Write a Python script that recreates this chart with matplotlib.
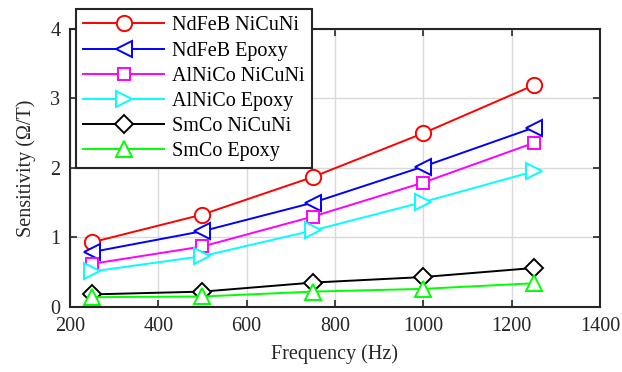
import matplotlib
import matplotlib.pyplot as plt
import numpy as np

matplotlib.use("Agg")

plt.rcParams["font.family"] = ["Liberation Serif", "DejaVu Serif"]

freq = [250, 500, 750, 1000, 1250]
ndfeb_nicuni = [0.93, 1.33, 1.87, 2.50, 3.19]
ndfeb_epoxy = [0.79, 1.09, 1.50, 2.02, 2.58]
alnico_nicuni = [0.62, 0.87, 1.30, 1.79, 2.36]
alnico_epoxy = [0.51, 0.73, 1.10, 1.51, 1.95]
smco_nicuni = [0.18, 0.22, 0.35, 0.43, 0.56]
smco_epoxy = [0.14, 0.15, 0.22, 0.26, 0.34]

labels = ["NdFeB NiCuNi", "NdFeB Epoxy", "AlNiCo NiCuNi", "AlNiCo Epoxy", "SmCo NiCuNi", "SmCo Epoxy"]
colors = ["#ff0000", "#0000ff", "#ff00ff", "#00ffff", "#000000", "#00ff00"]
markers = ["o", "<", "s", ">", "D", "^"]
sizes = [11, 11, 9, 11, 9, 11]
series = [ndfeb_nicuni, ndfeb_epoxy, alnico_nicuni, alnico_epoxy, smco_nicuni, smco_epoxy]

fig = plt.figure(figsize=(6.22, 3.72), dpi=100)
ax = fig.add_axes([0.1125, 0.175, 0.852, 0.747])

for vals, lab, c, m, ms in zip(series, labels, colors, markers, sizes):
    ax.plot(freq, vals, color=c, marker=m, markersize=ms, markerfacecolor="white",
            markeredgewidth=1.4, linewidth=1.4, label=lab)

ax.set_xlim(200, 1400)
ax.set_ylim(0, 4)
ax.set_xticks(np.arange(200, 1401, 200))
ax.set_yticks(np.arange(0, 5, 1))
ax.grid(True, color="#d9d9d9", linewidth=1.0)
ax.set_axisbelow(True)
ax.tick_params(direction="in", top=True, right=True, labelsize=14.5, colors="#262626",
               length=5, width=1.2, pad=7)
for sp in ax.spines.values():
    sp.set_linewidth(1.5)
    sp.set_color("#262626")

ax.set_xlabel("Frequency (Hz)", fontsize=14.5, color="#262626", labelpad=6)
ax.set_ylabel("Sensitivity (Ω/T)", fontsize=14.5, color="#262626", labelpad=10)

leg = ax.legend(loc="upper left", bbox_to_anchor=(-0.007, 1.107), fontsize=14.5,
                handlelength=4.0, handletextpad=0.4, labelspacing=0.3,
                borderpad=0.35, fancybox=False, framealpha=1, edgecolor="#262626")
leg.get_frame().set_linewidth(1.5)

fig.savefig("out.png", dpi=100)
